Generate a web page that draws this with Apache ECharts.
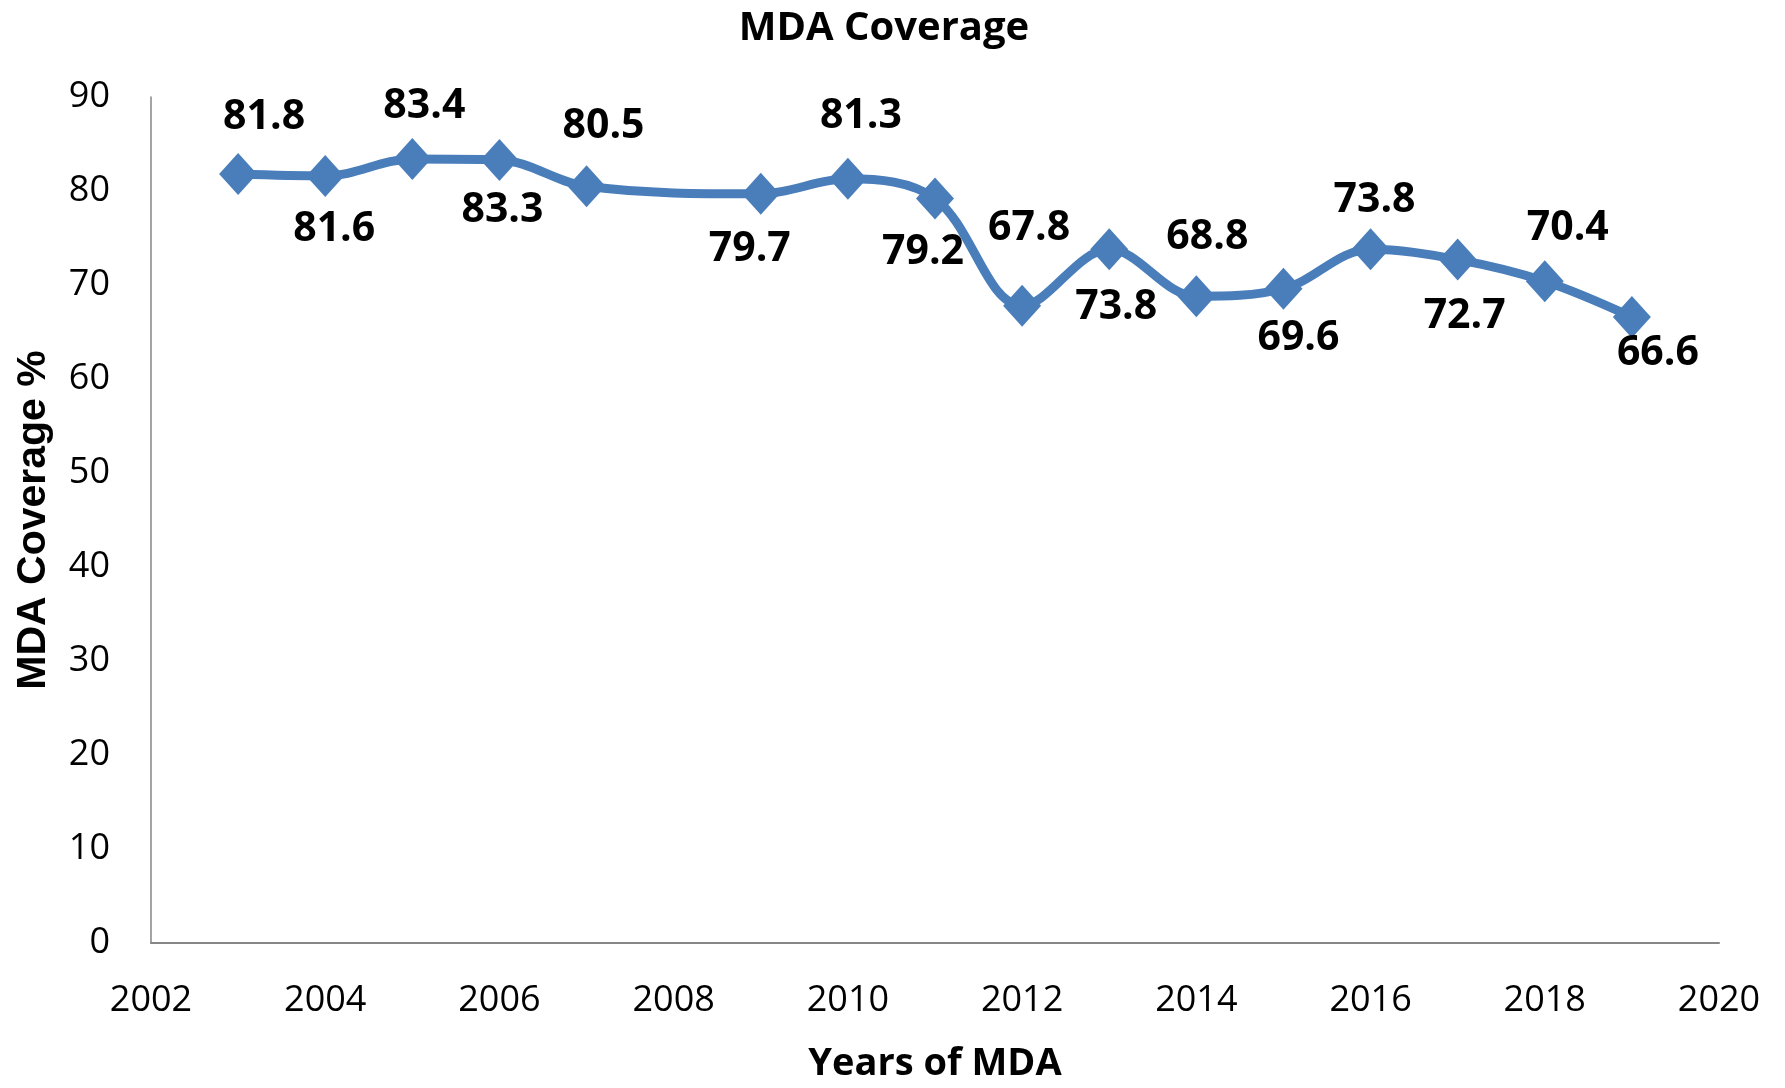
<!DOCTYPE html>
<html>
<head>
<meta charset="utf-8">
<title>MDA Coverage</title>
<script src="https://cdn.jsdelivr.net/npm/echarts@6/dist/echarts.min.js"></script>
<style>
  html, body { margin: 0; padding: 0; background: #fff; }
  #chart { width: 1785px; height: 1088px; }
</style>
</head>
<body>
<div id="chart"></div>
<script>
// years of MDA (no round in 2008)
const years = [2003, 2004, 2005, 2006, 2007, 2009, 2010, 2011, 2012, 2013, 2014, 2015, 2016, 2017, 2018, 2019]
// coverage %, as plotted
const coverage = [81.8, 81.6, 83.4, 83.3, 80.5, 79.7, 81.3, 79.2, 67.8, 73.8, 68.8, 69.6, 73.8, 72.7, 70.4, 66.6]
// data label text as printed on the chart
const labelText = ['81.8', '81.6', '83.4', '83.3', '80.5', '79.7', '81.3', '79.2', '67.8', '73.8', '68.8', '69.6', '73.8', '72.7', '70.4', '66.6']

// label placement relative to the marker centre (px)
const labelOffsets = [
  [26, -57], [9, 53], [12, -53], [3, 50], [17, -60], [-11, 56], [13, -62], [-12, 54],
  [7, -77], [7, 58], [11, -59], [15, 50], [4, -49], [7, 57], [23, -53], [26, 36]
]

const lineColor = '#4a7ebb'
const axisColor = '#868686'
const font = '"Open Sans", "Liberation Sans", sans-serif'

const chartObj = echarts.init(document.getElementById('chart'))

const chartOption = {
  animation: false,
  title: {
    text: 'MDA Coverage',
    left: 879,
    top: 4,
    textAlign: 'center',
    textStyle: {
      fontFamily: font,
      fontSize: 40,
      fontWeight: 'bold',
      color: '#000'
    }
  },
  grid: {
    left: 151,
    right: 66,
    top: 97,
    bottom: 139
  },
  xAxis: {
    type: 'value',
    min: 2002,
    max: 2020,
    interval: 2,
    name: 'Years of MDA',
    nameLocation: 'middle',
    nameGap: 102,
    nameTextStyle: {
      fontFamily: font,
      fontSize: 38,
      fontWeight: 'bold',
      color: '#000'
    },
    axisLine: {
      lineStyle: { color: axisColor, width: 2 }
    },
    axisTick: { show: false },
    splitLine: { show: false },
    axisLabel: {
      margin: 40,
      fontFamily: font,
      fontSize: 36,
      color: '#000',
      // plain years, no thousands separator
      formatter: v => String(v)
    }
  },
  yAxis: {
    type: 'value',
    min: 0,
    max: 90,
    interval: 10,
    name: 'MDA Coverage %',
    nameLocation: 'middle',
    nameGap: 97,
    nameRotate: 90,
    nameTextStyle: {
      fontFamily: '"Liberation Sans", sans-serif',
      fontSize: 41,
      fontWeight: 'bold',
      color: '#000'
    },
    axisLine: {
      show: true,
      lineStyle: { color: axisColor, width: 1.5 }
    },
    axisTick: { show: false },
    splitLine: { show: false },
    axisLabel: {
      margin: 41,
      padding: [7, 0, 0, 0],
      fontFamily: font,
      fontSize: 36,
      color: '#000'
    }
  },
  series: [
    {
      name: 'MDA Coverage',
      type: 'line',
      smooth: 0.35,
      symbol: 'diamond',
      symbolSize: [38, 42],
      lineStyle: { color: lineColor, width: 9 },
      itemStyle: { color: lineColor },
      z: 2,
      data: years.map((y, i) => ({
        value: [y, coverage[i]],
        label: {
          show: true,
          position: 'inside',
          offset: labelOffsets[i],
          padding: [7, 0, 0, 0],
          formatter: labelText[i],
          fontFamily: font,
          fontSize: 41,
          fontWeight: 'bold',
          color: '#000'
        }
      }))
    }
  ]
}

chartObj.setOption(chartOption, true)
</script>
</body>
</html>
